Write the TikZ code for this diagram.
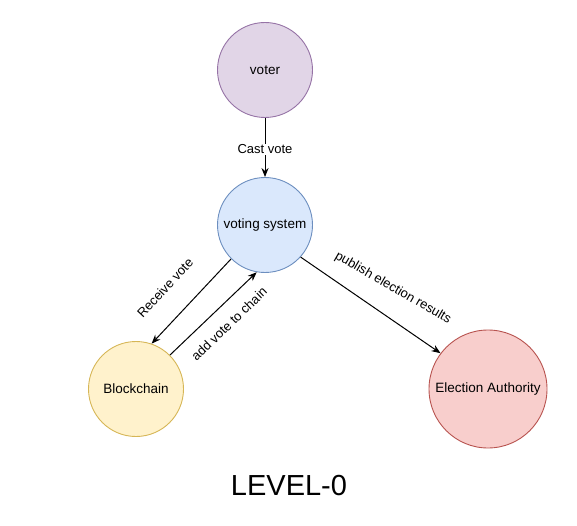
\documentclass[tikz,border=0pt]{standalone}
\usepackage{fontspec}
\setmainfont{Liberation Sans}
\usetikzlibrary{arrows.meta}
\definecolor{vfill}{HTML}{E1D5E7}\definecolor{vdraw}{HTML}{9673A6}
\definecolor{sfill}{HTML}{DAE8FC}\definecolor{sdraw}{HTML}{6C8EBF}
\definecolor{bfill}{HTML}{FFF2CC}\definecolor{bdraw}{HTML}{D6B656}
\definecolor{efill}{HTML}{F8CECC}\definecolor{edraw}{HTML}{B85450}
\begin{document}
\begin{tikzpicture}[x=1pt,y=-1pt,
  ent/.style={circle,draw,line width=0.9pt,inner sep=0pt,font=\fontsize{13.5}{15}\selectfont},
  flow/.style={line width=1pt,-{Stealth[length=9pt,width=7pt]}},
  lbl/.style={font=\fontsize{13}{15}\selectfont,inner sep=1pt}]
\useasboundingbox (0,0) rectangle (577,526);
\node[ent,fill=vfill,draw=vdraw,minimum size=95pt] (voter) at (265,70) {voter};
\node[ent,fill=sfill,draw=sdraw,minimum size=95pt] (vs) at (265,225) {voting system};
\node[ent,fill=bfill,draw=bdraw,minimum size=95pt] (bc) at (136,389) {Blockchain};
\node[ent,fill=efill,draw=edraw,minimum size=118pt] (ea) at (488,389) {Election Authority};
\draw[flow] (voter) -- node[lbl,fill=white,pos=0.53] (l1) {Cast vote} (vs);
\draw[flow] (vs.225) -- (bc.71);
\draw[flow] (bc.45) -- (vs.260);
\draw[flow] (vs.318) -- (ea.143);
\node[lbl,rotate=47] (l2) at (165,288) {Receive vote};
\node[lbl,rotate=44] (l3) at (229,324) {add vote to chain};
\node[lbl,rotate=-30] (l4) at (393,288) {publish election results};
\node[font=\fontsize{29}{32}\selectfont] (title) at (289,486) {LEVEL-0};
\end{tikzpicture}
\end{document}
